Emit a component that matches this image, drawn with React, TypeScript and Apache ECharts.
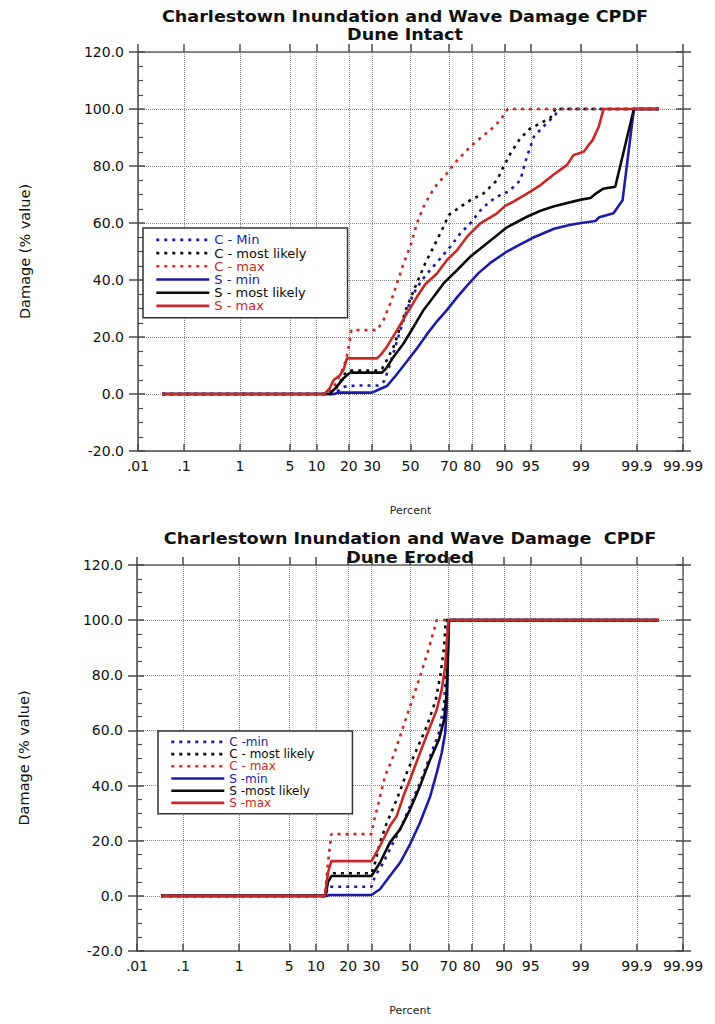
import React, { useEffect, useRef } from "react";
import * as echarts from "echarts";

const FONT = "'DejaVu Sans', sans-serif";
const BLUE = "#1c1ca8";
const RED = "#c82828";
const BLACK = "#0a0a0a";
const DOT: number[] = [3, 5];

// probability-scale ticks
const tickPercents = [0.01, 0.1, 1, 5, 10, 20, 30, 50, 70, 80, 90, 95, 99, 99.9, 99.99];
const tickLabels = [".01", ".1", "1", "5", "10", "20", "30", "50", "70", "80", "90", "95", "99", "99.9", "99.99"];
const yMin = -20;
const yMax = 120;
const yStep = 20;

const intactTitle = ["Charlestown Inundation and Wave Damage CPDF", "Dune Intact"];
const erodedTitle = ["Charlestown Inundation and Wave Damage  CPDF", "Dune Eroded"];
const intactNames = ["C - Min", "C - most likely", "C - max", "S - min", "S - most likely", "S - max"];
const erodedNames = ["C -min", "C - most likely", "C - max", "S -min", "S -most likely", "S -max"];

// [percent, damage]
const intactCMin: number[][] = [[0.035, 0], [15, 0], [16, 1], [18, 2.5], [20, 2.8], [25, 3], [33, 3], [36, 4.5], [37.4, 7.3], [39.1, 10.8], [41.8, 16.6], [44.5, 22.4], [48.1, 29.5], [51.7, 35.3], [56.2, 40], [60.6, 43.5], [65.8, 47.6], [70.7, 51.7], [75.2, 56.4], [79.3, 59.9], [83.6, 65.2], [87.2, 68.5], [89.8, 70.5], [91, 71], [93.3, 75], [94.4, 83.3], [95.4, 90.3], [96.5, 93.8], [97.6, 98], [97.8, 100], [99.965, 100]];
const intactCMost: number[][] = [[0.035, 0], [14, 0], [15.5, 2], [17, 4.5], [18.5, 7], [20, 8.2], [33.5, 8.2], [35, 9], [36.5, 10.8], [40.9, 16.6], [44.5, 23.6], [48.1, 30.6], [52.6, 37.6], [58, 45.9], [62.4, 51.7], [67.4, 58.7], [69.9, 62.8], [75.2, 65.7], [79.3, 68], [84.1, 70.4], [88.1, 75], [89.8, 79.8], [91.4, 84.5], [93.3, 89.7], [94.9, 93.2], [96.2, 95], [97.2, 97], [97.6, 100], [99.965, 100]];
const intactCMax: number[][] = [[0.035, 0], [13, 0], [15, 3], [17, 7], [19, 12], [20, 17], [21, 22.4], [32.4, 22.4], [35.7, 26], [39.1, 31.8], [42.7, 38.8], [46.3, 45.9], [50, 52], [53.5, 59.9], [57.1, 65.7], [60.6, 70], [64.1, 73.5], [69.1, 77.5], [73.8, 82], [79.3, 86.8], [83.6, 90.3], [86.7, 93.2], [89, 96.1], [90.3, 99], [90.8, 100], [99.965, 100]];
const intactSMin: number[][] = [[0.035, 0], [15, 0], [16.2, 0.5], [30, 0.5], [33, 1.5], [37.4, 2.8], [42.7, 7], [48.1, 11.5], [53.5, 16], [58.9, 21], [64.1, 25.5], [69.1, 29.5], [73.8, 34], [78, 38], [82.4, 42.5], [86.2, 46], [90.6, 50], [93.3, 52.5], [95.4, 55], [97.5, 58], [98.5, 59.3], [99, 60], [99.42, 60.7], [99.5, 62], [99.72, 63.4], [99.81, 68], [99.885, 100], [99.965, 100]];
const intactSMost: number[][] = [[0.035, 0], [13.5, 0], [15.6, 2.4], [18, 5.5], [20.5, 7.5], [34.9, 7.5], [37, 9], [40.9, 13.1], [46.3, 17.8], [51.7, 23.6], [57.1, 29.5], [62.4, 34.1], [67.4, 38.8], [73.8, 43.5], [79.3, 48.2], [85.2, 52.9], [90.6, 58.5], [94.4, 62.2], [96.2, 64.3], [97.5, 65.9], [99, 68.2], [99.3, 68.8], [99.45, 70.6], [99.57, 72], [99.74, 72.7], [99.885, 100], [99.965, 100]];
const intactSMax: number[][] = [[0.035, 0], [12, 0], [13.5, 2], [14.7, 4.9], [16.7, 6.5], [18, 8.4], [19.3, 12.5], [32.4, 12.5], [34.5, 14], [37.4, 16.6], [42.7, 22.4], [48.1, 28.3], [53.5, 34.1], [58, 38.5], [64.1, 42.3], [69.1, 47], [73.8, 50.5], [78, 55.2], [83, 59.9], [88.1, 63.4], [90.2, 66], [92, 67.5], [94.9, 71], [96.2, 73.3], [97.47, 77], [98.37, 80.4], [98.7, 83.9], [99.1, 85], [99.25, 87.4], [99.35, 89], [99.49, 93.8], [99.58, 100], [99.965, 100]];

const erodedCMin: number[][] = [[0.035, 0], [12.5, 0], [13.2, 3.3], [30, 3.3], [31.7, 7.2], [35, 11], [39.2, 16.9], [44.6, 24.1], [50, 32.5], [55.4, 41], [60.8, 50.6], [65.3, 59], [67.9, 69.9], [69.1, 85.5], [69.7, 100], [99.965, 100]];
const erodedCMost: number[][] = [[0.035, 0], [12.5, 0], [13.2, 8.2], [30, 8.2], [31.7, 12], [34.1, 19.3], [37.6, 26.5], [42.8, 34.9], [48.2, 44.6], [53.6, 53], [59, 61.4], [63.7, 71], [66.2, 80.7], [67.9, 90.4], [68.7, 100], [99.965, 100]];
const erodedCMax: number[][] = [[0.035, 0], [12.3, 0], [13.2, 12], [14.2, 22.4], [30, 22.4], [31, 26.5], [33.4, 33.7], [36.7, 43.4], [41, 50.6], [44.6, 57.8], [50, 68.7], [55.4, 79.5], [59.9, 89.2], [64.2, 100], [99.965, 100]];
const erodedSMin: number[][] = [[0.035, 0], [13, 0], [13.5, 0.3], [30, 0.3], [34.1, 2.4], [39.2, 7.2], [44.6, 12], [50, 18.7], [55.4, 26.5], [60.8, 36], [64.2, 44.6], [66.7, 51.8], [68.4, 59], [69.1, 67.5], [70.2, 100], [99.965, 100]];
const erodedSMost: number[][] = [[0.035, 0], [12.5, 0], [13.2, 5], [14.2, 7.2], [30, 7.2], [34.1, 12], [39.2, 19.3], [44.6, 24.1], [50, 31.3], [55.4, 39.8], [60.8, 49.4], [65.3, 56.6], [67.9, 63.9], [69.1, 73.5], [70.2, 100], [99.965, 100]];
const erodedSMax: number[][] = [[0.035, 0], [12.3, 0], [13.2, 8.4], [14.2, 12.6], [30, 12.6], [34.1, 18], [39.2, 25.3], [42.8, 28.9], [46.4, 36.1], [50, 42.2], [55.4, 51.8], [60.8, 61.4], [64.2, 67.5], [66.7, 74.7], [68.4, 83], [69.6, 96.4], [70, 100], [99.965, 100]];

const seriesStyles = [
  { color: BLUE, type: DOT as any },
  { color: BLACK, type: DOT as any },
  { color: RED, type: DOT as any },
  { color: BLUE, type: "solid" as any },
  { color: BLACK, type: "solid" as any },
  { color: RED, type: "solid" as any },
];

// inverse normal CDF (Acklam)
function probit(p: number): number {
  const a = [-3.969683028665376e1, 2.209460984245205e2, -2.759285104469687e2, 1.38357751867269e2, -3.066479806614716e1, 2.506628277459239];
  const b = [-5.447609879822406e1, 1.615858368580409e2, -1.556989798598866e2, 6.680131188771972e1, -1.328068155288572e1];
  const c = [-7.784894002430293e-3, -3.223964580411365e-1, -2.400758277161838, -2.549732539343734, 4.374664141464968, 2.938163982698783];
  const d = [7.784695709041462e-3, 3.224671290700398e-1, 2.445134137142996, 3.754408661907416];
  const pl = 0.02425;
  if (p < pl) {
    const q = Math.sqrt(-2 * Math.log(p));
    return (((((c[0] * q + c[1]) * q + c[2]) * q + c[3]) * q + c[4]) * q + c[5]) / ((((d[0] * q + d[1]) * q + d[2]) * q + d[3]) * q + 1);
  }
  if (p <= 1 - pl) {
    const q = p - 0.5;
    const r = q * q;
    return ((((((a[0] * r + a[1]) * r + a[2]) * r + a[3]) * r + a[4]) * r + a[5]) * q) / (((((b[0] * r + b[1]) * r + b[2]) * r + b[3]) * r + b[4]) * r + 1);
  }
  const q = Math.sqrt(-2 * Math.log(1 - p));
  return -(((((c[0] * q + c[1]) * q + c[2]) * q + c[3]) * q + c[4]) * q + c[5]) / ((((d[0] * q + d[1]) * q + d[2]) * q + d[3]) * q + 1);
}
const zOf = (pct: number) => probit(pct / 100);

const zTicks = tickPercents.map(zOf);
const zMin = zTicks[0];
const zMax = zTicks[zTicks.length - 1];
const tickLabelFor = (v: number) => {
  let best = 0;
  for (let i = 1; i < zTicks.length; i++) if (Math.abs(zTicks[i] - v) < Math.abs(zTicks[best] - v)) best = i;
  return tickLabels[best];
};

const AX_DARK = "#4a4a4a";
const AX_GRAY = "#666";
const GRID_COLOR = "#8c8c8c";

function makeXAxes(gridIndex: number) {
  return [
    {
      type: "value", gridIndex, position: "bottom", min: zMin, max: zMax,
      axisLine: { show: true, onZero: false, lineStyle: { color: AX_DARK, width: 1.5 } },
      axisTick: { show: true, inside: true, length: 7, customValues: zTicks, lineStyle: { color: AX_DARK, width: 1.5 } },
      axisLabel: { customValues: zTicks, formatter: tickLabelFor, fontFamily: FONT, fontSize: 14, color: "#111", margin: 8 },
      splitLine: { show: true, lineStyle: { color: GRID_COLOR, type: "dotted", width: 1 } },
      name: "Percent", nameLocation: "middle", nameGap: 54,
      nameTextStyle: { fontFamily: FONT, fontSize: 11, color: "#222" },
    },
    {
      type: "value", gridIndex, position: "top", min: zMin, max: zMax,
      axisLine: { show: true, onZero: false, lineStyle: { color: AX_GRAY, width: 1.5 } },
      axisTick: { show: true, inside: false, length: 8, customValues: zTicks, lineStyle: { color: AX_DARK, width: 1.5 } },
      axisLabel: { show: false },
      splitLine: { show: false },
    },
  ];
}

function makeYAxes(gridIndex: number) {
  const base = { type: "value", gridIndex, min: yMin, max: yMax, interval: yStep };
  return [
    {
      ...base, position: "left",
      axisLine: { show: true, onZero: false, lineStyle: { color: AX_DARK, width: 1.5 } },
      axisTick: { show: true, inside: false, length: 9, lineStyle: { color: AX_DARK, width: 1.5 } },
      axisLabel: { formatter: (v: number) => v.toFixed(1), fontFamily: FONT, fontSize: 14, color: "#111", margin: 14 },
      splitLine: { show: true, lineStyle: { color: GRID_COLOR, type: "dotted", width: 1 } },
      name: "Damage (% value)", nameLocation: "middle", nameGap: 106, nameRotate: 90,
      nameTextStyle: { fontFamily: FONT, fontSize: 14.5, color: "#111" },
    },
    {
      ...base, position: "left",
      axisLine: { show: false, onZero: false },
      axisTick: { show: true, inside: true, length: 7, lineStyle: { color: AX_DARK, width: 1.5 } },
      minorTick: { show: true, splitNumber: 4, length: 5, lineStyle: { color: AX_DARK, width: 1.2 } },
      axisLabel: { show: false },
      splitLine: { show: false },
    },
    {
      ...base, position: "right",
      axisLine: { show: true, onZero: false, lineStyle: { color: AX_GRAY, width: 1.5 } },
      axisTick: { show: true, inside: false, length: 8, lineStyle: { color: AX_DARK, width: 1.5 } },
      axisLabel: { show: false },
      splitLine: { show: false },
    },
    {
      ...base, position: "right",
      axisLine: { show: false, onZero: false },
      axisTick: { show: true, inside: true, length: 7, lineStyle: { color: AX_DARK, width: 1.5 } },
      minorTick: { show: true, splitNumber: 4, length: 5, lineStyle: { color: AX_DARK, width: 1.2 } },
      axisLabel: { show: false },
      splitLine: { show: false },
    },
  ];
}

function makeSeries(names: string[], sets: number[][][], xi: number, yi: number) {
  return sets.map((pts, i) => ({
    type: "line",
    name: names[i],
    xAxisIndex: xi,
    yAxisIndex: yi,
    data: pts.map(([p, v]) => [zOf(p), v]),
    symbol: "none",
    showSymbol: false,
    silent: true,
    lineStyle: { color: seriesStyles[i].color, width: 2.6, type: seriesStyles[i].type },
    itemStyle: { color: seriesStyles[i].color },
    z: 3 + i,
  }));
}

function makeLegend(names: string[], left: number, top: number, fontSize: number, gap: number, padV: number, padR: number) {
  return {
    orient: "vertical",
    left,
    top,
    itemWidth: 53,
    itemHeight: 10,
    itemGap: gap,
    padding: [padV, padR, padV, 12],
    backgroundColor: "#fff",
    borderColor: "#333",
    borderWidth: 1.5,
    selectedMode: false,
    z: 20,
    textStyle: { fontFamily: FONT, fontSize, color: BLACK },
    data: names.map((n, i) => ({
      name: n,
      textStyle: { color: seriesStyles[i].color },
      itemStyle: { opacity: 0, color: "rgba(0,0,0,0)", borderWidth: 0 },
      lineStyle: { color: seriesStyles[i].color, width: 2.6, type: seriesStyles[i].type, opacity: 1 },
    })),
  };
}

function titleText(text: string, x: number, y: number) {
  return {
    type: "text",
    x,
    y,
    scaleX: 1.1,
    z: 30,
    style: { text, align: "center", verticalAlign: "middle", fontFamily: FONT, fontSize: 16, fontWeight: "bold", fill: "#111" },
  };
}

export default function App() {
  const ref = useRef<HTMLDivElement>(null);
  useEffect(() => {
    if (!ref.current) return;
    const chart = echarts.init(ref.current, null, { renderer: "svg" });
    const option: any = {
      animation: false,
      backgroundColor: "#fff",
      grid: [
        { left: 138, top: 52, width: 545, height: 399 },
        { left: 137, top: 565, width: 546, height: 386 },
      ],
      xAxis: [...makeXAxes(0), ...makeXAxes(1)],
      yAxis: [...makeYAxes(0), ...makeYAxes(1)],
      legend: [
        makeLegend(intactNames, 143, 228, 13, 0.2, 5.4, 41),
        makeLegend(erodedNames, 158, 731, 12, 0.2, 4.9, 38),
      ],
      graphic: [
        titleText(intactTitle[0], 405, 16),
        titleText(intactTitle[1], 405, 34.5),
        titleText(erodedTitle[0], 410, 538.5),
        titleText(erodedTitle[1], 410, 557),
      ],
      series: [
        ...makeSeries(intactNames, [intactCMin, intactCMost, intactCMax, intactSMin, intactSMost, intactSMax], 0, 0),
        ...makeSeries(erodedNames, [erodedCMin, erodedCMost, erodedCMax, erodedSMin, erodedSMost, erodedSMax], 2, 4),
      ],
    };
    chart.setOption(option);
    return () => chart.dispose();
  }, []);
  return (
    <div
      ref={ref}
      style={{ position: "absolute", left: 0, top: 0, width: 715, height: 1024, background: "#fff" }}
    />
  );
}
